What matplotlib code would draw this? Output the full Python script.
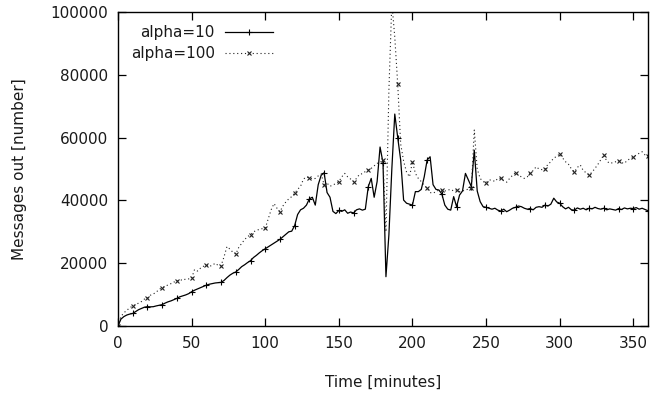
import numpy as np
import matplotlib
matplotlib.use('Agg')
import matplotlib.pyplot as plt
from matplotlib.lines import Line2D

plt.rcParams['font.family'] = 'DejaVu Sans'

# time axis (minutes), one sample every 2 minutes
minutes = np.arange(0, 362, 2)

# messages out, alpha=10
alpha10 = [
    0, 2200, 3000, 3500, 3800, 4000, 4600, 5200, 5600, 6000,
    6150, 6100, 6150, 6400, 6600, 6800, 7300, 7700, 8000, 8400,
    8800, 9300, 9600, 9900, 10300, 10900, 11400, 11800, 12200, 12600,
    13000, 13300, 13500, 13700, 13800, 13900, 14500, 15400, 16200, 16800,
    17200, 18000, 18900, 19500, 20200, 20800, 21800, 22500, 23300, 24000,
    24600, 25200, 25800, 26400, 27000, 27600, 28400, 29200, 30000, 30200,
    32000, 35500, 37000, 37500, 38500, 40500, 41000, 38500, 45000, 48000,
    48800, 42500, 41000, 36500, 35800, 36800, 36500, 37000, 35900, 36300,
    36000, 37000, 37300, 36900, 37200, 44400, 47000, 41000, 46000, 57000,
    52000, 15700, 29000, 50000, 67500, 60000, 52900, 40100, 39100, 38800,
    38500, 42800, 42800, 43500, 47500, 52900, 53900, 45000, 43500, 43300,
    42000, 38500, 37200, 36900, 41200, 38000, 41700, 43000, 48600, 46500,
    44400, 56000, 43000, 39600, 38000, 37800, 37500, 37200, 37500, 36900,
    36600, 37200, 36400, 36900, 37500, 37800, 38200, 38000, 37500, 37200,
    37400, 37000, 37800, 38000, 37800, 38500, 38200, 38800, 40700, 39500,
    39100, 38000, 37300, 37800, 37000, 36900, 37600, 37200, 37500, 37000,
    37500, 37300, 37800, 37400, 37200, 37500, 37000, 37300, 37100, 36900,
    37400, 37100, 37600, 37300, 37500, 37400, 37700, 37200, 37500, 37100,
    36700,
]

# messages out, alpha=100
alpha100 = [
    0, 3000, 4200, 5000, 5800, 6400, 6800, 7300, 7800, 8600,
    8800, 9800, 10200, 10800, 11700, 12200, 12600, 13100, 13500, 14000,
    14200, 14800, 14500, 15000, 15000, 15200, 18000, 17500, 18400, 19000,
    19400, 19000, 19300, 20000, 19300, 19200, 22000, 25300, 24500, 23500,
    22900, 25000, 26300, 27500, 28500, 29000, 30000, 30400, 30800, 31000,
    31100, 34000, 37000, 39000, 37500, 36400, 38200, 39500, 40500, 41200,
    42300, 43500, 44500, 46800, 47500, 47200, 46800, 47000, 47800, 48400,
    45000, 45500, 44500, 44900, 45400, 46000, 47500, 48600, 47500, 46800,
    46000, 47000, 48300, 48500, 49200, 49700, 50200, 51000, 51800, 52000,
    53000, 30000, 75000, 103000, 92000, 77000, 58000, 52500, 49000, 47500,
    52300, 48600, 47000, 46000, 44800, 43800, 42500, 42300, 42800, 43300,
    43300, 43000, 43300, 43500, 43000, 43300, 42800, 43000, 43300, 43600,
    43800, 62400, 50000, 47000, 46000, 45600, 46500, 46500, 46000, 47000,
    47000, 46200, 45800, 47000, 48000, 48800, 48000, 47500, 47000, 47500,
    48800, 49500, 50700, 50000, 49800, 49900, 51500, 52300, 53500, 54000,
    54800, 53500, 52300, 51500, 50000, 49100, 50500, 51300, 49500, 48800,
    48100, 49000, 50200, 51500, 53000, 54500, 52500, 51800, 52000, 52300,
    52600, 52000, 51800, 52800, 53300, 53700, 54500, 55000, 55500, 54500,
    54100,
]

labels = ['alpha=10', 'alpha=100']

fig = plt.figure(figsize=(6.64, 3.96), dpi=100)
ax = fig.add_axes([118 / 664, 1 - 326 / 396, 530 / 664, 314 / 396])

solid_style = dict(color='black', lw=0.9, ls='-', marker='+', ms=4.5, mew=0.8)
dotted_style = dict(color='#222222', lw=0.8, ls=(0, (1, 2.5)), marker='x', ms=3, mew=0.8)

ax.plot(minutes, alpha10, markevery=5, **solid_style)
ax.plot(minutes, alpha100, markevery=5, **dotted_style)

ax.set_xlim(0, 360)
ax.set_ylim(0, 100000)
ax.set_xticks(range(0, 351, 50))
ax.set_yticks(range(0, 100001, 20000))
ax.tick_params(direction='in', length=6, width=0.9, top=True, right=True,
               labelsize=11, pad=7, labelcolor='#1a1a1a')
for s in ax.spines.values():
    s.set_linewidth(1.0)

# gnuplot style key: right-aligned text, sample on the right
key_rows = [0.936, 0.869]
for lab, y, st in zip(labels, key_rows, [solid_style, dotted_style]):
    ax.text(0.183, y, lab, transform=ax.transAxes, ha='right', va='center',
            fontsize=11, color='#1a1a1a')
    ax.add_line(Line2D([0.202, 0.2925], [y, y], transform=ax.transAxes,
                       color=st['color'], lw=st['lw'], ls=st['ls']))
    ax.add_line(Line2D([0.247], [y], transform=ax.transAxes, color=st['color'],
                       ls='none', marker=st['marker'], ms=st['ms'], mew=st['mew']))

fig.text(383 / 664, 1 - 382 / 396, 'Time [minutes]', ha='center', va='center',
         fontsize=11, color='#1a1a1a')
fig.text(20 / 664, 1 - 169 / 396, 'Messages out [number]', ha='center', va='center',
         rotation=90, fontsize=11, color='#1a1a1a')

fig.savefig('out.png', dpi=100)
